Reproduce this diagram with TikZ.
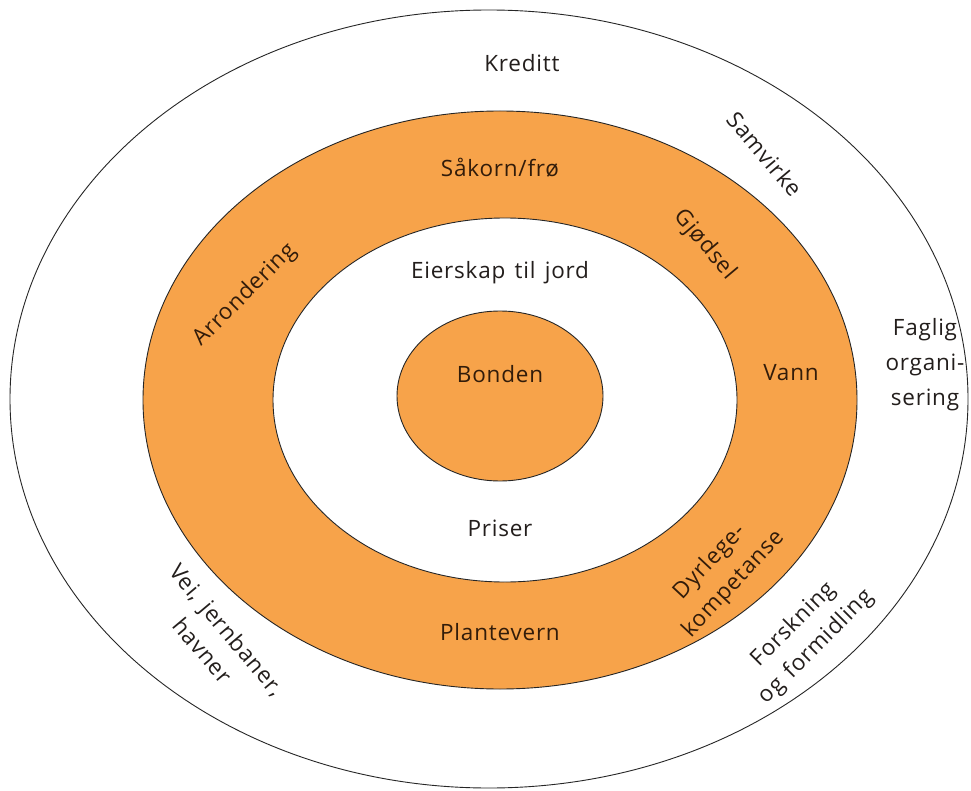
\documentclass[tikz,border=0pt]{standalone}
\usepackage{fontspec}
\setmainfont{Open Sans}[LetterSpace=3.5,WordSpace=1.4]
\definecolor{ring}{RGB}{247,163,74}
\definecolor{ink}{RGB}{35,30,28}
\definecolor{inkb}{RGB}{50,28,10}
\begin{document}
\begin{tikzpicture}[x=1pt,y=-1pt,
  lbl/.style={font=\fontsize{22.5}{35}\selectfont, text=ink, align=center, inner sep=0pt},
  rlbl/.style={lbl, font=\fontsize{22.5}{32}\selectfont},
  olbl/.style={lbl, text=inkb},
  orlbl/.style={rlbl, text=inkb},
  edge/.style={draw=black!85, line width=0.9pt}]
\useasboundingbox (0,0) rectangle (971,791);
\fill[white] (0,0) rectangle (971,791);
% rings
\draw[edge, fill=white] (489,399) ellipse [x radius=479, y radius=389];
\draw[edge, fill=ring] (500,400) ellipse [x radius=357, y radius=289];
\draw[edge, fill=white] (505,400) ellipse [x radius=232, y radius=182];
\draw[edge, fill=ring] (500,396) ellipse [x radius=103, y radius=85];
% labels
\node[lbl] (kreditt) at (522,63) {Kreditt};
\node[lbl, rotate=-50] (samvirke) at (765,154) {Samvirke};
\node[lbl] (faglig) at (925,365) {Faglig\\organi-\\sering};
\node[rlbl, rotate=45] (forskning) at (805,636) {Forskning\\og formidling};
\node[rlbl, rotate=-50] (vei) at (215,640) {Vei, jernbaner,\\havner};
\node[olbl] (sakorn) at (500,168) {Såkorn/frø};
\node[olbl, rotate=-50] (gjodsel) at (705,245) {Gjødsel};
\node[olbl, rotate=45] (arrondering) at (245,295) {Arrondering};
\node[olbl] (vann) at (791,373) {Vann};
\node[orlbl, rotate=47] (dyrlege) at (722,573) {Dyrlege-\\kompetanse};
\node[olbl] (plantevern) at (500,632) {Plantevern};
\node[lbl] (eierskap) at (500,273) {Eierskap til jord};
\node[lbl] (priser) at (500,528) {Priser};
\node[olbl] (bonden) at (500,374) {Bonden};
\end{tikzpicture}
\end{document}
